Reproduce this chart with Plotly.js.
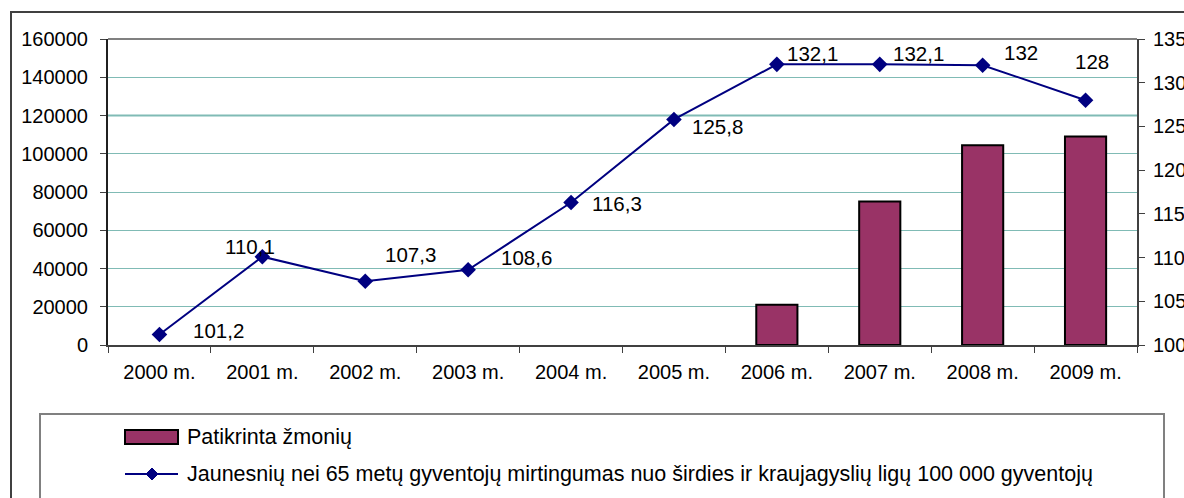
<!DOCTYPE html>
<html>
<head>
<meta charset="utf-8">
<script src="https://cdn.plot.ly/plotly-3.0.1.min.js"></script>
<style>
    html, body { margin: 0; padding: 0; overflow: hidden; background: #fff; }
    #frame {
        position: absolute;
        left: 10px;
        top: 11px;
        border: 2px solid #404040;
        width: 1190px;
        height: 510px;
    }
    #chart { width: 1190px; height: 510px; }
</style>
</head>
<body>
<div id="frame"><div id="chart"></div></div>
<script>
// chart data
const years = ['2000 m.', '2001 m.', '2002 m.', '2003 m.', '2004 m.', '2005 m.', '2006 m.', '2007 m.', '2008 m.', '2009 m.'];
const checkedPeople = [null, null, null, null, null, null, 21000, 75000, 104500, 109000];
const mortality = [101.2, 110.1, 107.3, 108.6, 116.3, 125.8, 132.1, 132.1, 132, 128];
const mortalityLabels = ['101,2', '110,1', '107,3', '108,6', '116,3', '125,8', '132,1', '132,1', '132', '128'];

const barName = 'Patikrinta žmonių';
const lineName = 'Jaunesnių nei 65 metų gyventojų mirtingumas nuo širdies ir kraujagyslių ligų 100 000 gyventojų';

// label nudges (px), picked to sit where the original ones sit
const labelShift = [[59, 4], [-12, 10], [45, 27], [58, 12], [46, -1], [44, -7], [36, 11], [39, 11], [38, 13], [6, 39]];

const FONT = 'Liberation Sans, Arial, sans-serif';
const NAVY = '#000080';
const BAR_FILL = '#993366';
const GRID = '#80BBB5';

// plot area inside the div
const margin = {l: 96, r: 65, t: 26, b: 178, autoexpand: false};
const W = 1190, H = 510;
const plotW = W - margin.l - margin.r;
const plotH = H - margin.t - margin.b;
// page pixel -> paper coords (div content starts at page 12,13)
const px = x => (x - 12 - margin.l) / plotW;
const py = y => (H - margin.b - (y - 13)) / plotH;

const traces = [
    {
        x: years,
        y: checkedPeople,
        name: barName,
        type: 'bar',
        marker: {color: BAR_FILL, line: {color: '#000', width: 2}},
        hoverinfo: 'x+y'
    },
    {
        x: years,
        y: mortality,
        name: lineName,
        type: 'scatter',
        mode: 'lines+markers',
        yaxis: 'y2',
        line: {color: NAVY, width: 2},
        marker: {symbol: 'diamond', size: 12, color: NAVY}
    }
];

const annotations = mortality.map((v, i) => ({
    x: years[i],
    y: v,
    yref: 'y2',
    text: mortalityLabels[i],
    showarrow: false,
    xshift: labelShift[i][0],
    yshift: labelShift[i][1],
    font: {family: FONT, size: 20.5, color: '#000'}
}));

// legend drawn by hand so the box and swatches look like the original
annotations.push(
    {xref: 'paper', yref: 'paper', x: px(185), y: py(437), xanchor: 'left', yanchor: 'middle',
        text: barName, showarrow: false, font: {family: FONT, size: 21.5, color: '#000'}},
    {xref: 'paper', yref: 'paper', x: px(185), y: py(474), xanchor: 'left', yanchor: 'middle',
        text: lineName, showarrow: false, font: {family: FONT, size: 21.5, color: '#000'}}
);

const shapes = [
    // thicker grid line at 120000, like the original
    {type: 'line', xref: 'paper', yref: 'y', x0: 0, x1: 1, y0: 120000, y1: 120000,
        line: {color: GRID, width: 2}, layer: 'below'},
    // grey top edge of the plot area
    {type: 'line', xref: 'paper', yref: 'paper', x0: 0, x1: 1, y0: 1, y1: 1,
        line: {color: '#808080', width: 2}},
    // legend box
    {type: 'rect', xref: 'paper', yref: 'paper', x0: px(40), x1: px(1164), y0: py(414), y1: py(560),
        line: {color: '#808080', width: 2}},
    // bar swatch
    {type: 'rect', xref: 'paper', yref: 'paper', x0: px(125), x1: px(178), y0: py(430), y1: py(444),
        fillcolor: BAR_FILL, line: {color: '#000', width: 2}},
    // line swatch
    {type: 'line', xref: 'paper', yref: 'paper', x0: px(125), x1: px(178), y0: py(474), y1: py(474),
        line: {color: NAVY, width: 2}},
    {type: 'path', xref: 'paper', yref: 'paper', xsizemode: 'pixel', ysizemode: 'pixel',
        xanchor: px(152), yanchor: py(474),
        path: 'M0,6 L6,0 L0,-6 L-6,0 Z', fillcolor: NAVY, line: {color: NAVY, width: 1}}
];

const layout = {
    width: W,
    height: H,
    margin: margin,
    paper_bgcolor: '#fff',
    plot_bgcolor: '#fff',
    showlegend: false,
    bargap: 0.6,
    font: {family: FONT, size: 20, color: '#000'},
    xaxis: {
        type: 'category',
        range: [-0.5, 9.5],
        automargin: false,
        tickson: 'boundaries',
        ticks: 'outside',
        ticklen: 6,
        tickcolor: '#404040',
        tickwidth: 1,
        showline: true,
        linecolor: '#404040',
        linewidth: 2,
        showgrid: false,
        ticklabelstandoff: 8,
        tickfont: {family: FONT, size: 20, color: '#000'},
        fixedrange: true
    },
    yaxis: {
        range: [0, 160000],
        dtick: 20000,
        tickformat: 'd',
        automargin: false,
        ticks: 'outside',
        ticklen: 6,
        tickcolor: '#404040',
        showline: true,
        linecolor: '#202020',
        linewidth: 2,
        gridcolor: GRID,
        gridwidth: 1,
        zeroline: false,
        ticklabelstandoff: 8,
        tickfont: {family: FONT, size: 20, color: '#000'},
        fixedrange: true
    },
    yaxis2: {
        overlaying: 'y',
        side: 'right',
        range: [100, 135],
        dtick: 5,
        automargin: false,
        ticks: 'outside',
        ticklen: 6,
        tickcolor: '#404040',
        showline: true,
        linecolor: '#404040',
        linewidth: 2,
        showgrid: false,
        zeroline: false,
        ticklabelstandoff: 4,
        tickfont: {family: FONT, size: 20, color: '#000'},
        fixedrange: true
    },
    annotations: annotations,
    shapes: shapes
};

Plotly.newPlot('chart', traces, layout, {displayModeBar: false, staticPlot: true});
</script>
</body>
</html>
